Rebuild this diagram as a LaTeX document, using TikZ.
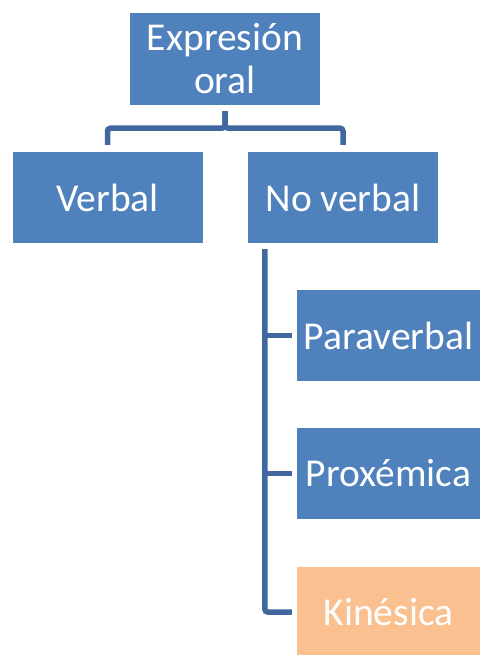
\documentclass[tikz,border=0pt]{standalone}
\usepackage{fontspec}
\setmainfont{Carlito}
\usetikzlibrary{calc}
\definecolor{boxblue}{HTML}{4F81BD}
\definecolor{boxorange}{HTML}{FAC090}
\definecolor{lineblue}{HTML}{41689E}
\begin{document}
\begin{tikzpicture}[x=1pt,y=1pt,
  box/.style={rectangle, fill=boxblue, text=white, inner sep=0pt, align=center,
    font=\fontsize{39.5}{43}\selectfont, minimum height=91pt},
  conn/.style={draw=lineblue, line width=5.5pt, rounded corners=3pt}]
\useasboundingbox (0,0) rectangle (480,-655);
\node[box, minimum width=190pt, minimum height=92pt] (top) at (225,-59) {Expresión\\oral};
\node[box, minimum width=190pt] (verbal) at (107.5,-197.5) {Verbal};
\node[box, minimum width=190pt] (noverbal) at (343,-197.5) {No verbal};
\node[box, minimum width=183pt] (para) at (388.5,-335.5) {Paraverbal};
\node[box, minimum width=183pt] (prox) at (388.5,-473.5) {Proxémica};
\node[box, minimum width=183pt, fill=boxorange] (kin) at (388.5,-612) {Kinésica};
\draw[conn] ([yshift=-6pt]top.south) -- ++(0,-17) -| ([yshift=7pt]verbal.north);
\draw[conn] ([yshift=-6pt]top.south) -- ++(0,-17) -| ([yshift=7pt]noverbal.north);
\coordinate (vtop) at ([xshift=17pt,yshift=-6pt]noverbal.south west);
\draw[conn] (vtop) |- ([xshift=-5pt]kin.west);
\draw[conn] (vtop |- para.west) -- ([xshift=-5pt]para.west);
\draw[conn] (vtop |- prox.west) -- ([xshift=-5pt]prox.west);
\end{tikzpicture}
\end{document}
